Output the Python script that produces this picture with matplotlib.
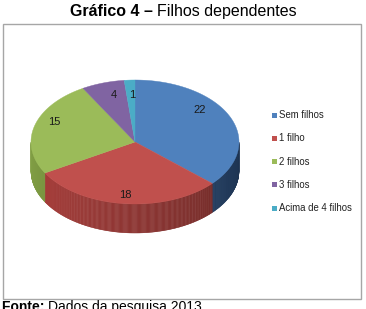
import numpy as np
import matplotlib
matplotlib.use("Agg")
import matplotlib.pyplot as plt
from matplotlib.patches import Polygon, Rectangle

plt.rcParams["font.family"] = ["Liberation Sans", "DejaVu Sans"]

categories = ["Sem filhos", "1 filho", "2 filhos", "3 filhos", "Acima de 4 filhos"]
values = [22, 18, 15, 4, 1]
top_colors = ["#4f81bd", "#c0504d", "#9bbb59", "#8064a2", "#4bacc6"]
side_colors = ["#2d4f7c", "#9a3734", "#728c3c", "#5c4878", "#32879e"]

W, H = 366, 309
fig = plt.figure(figsize=(W / 100, H / 100), dpi=100)
ax = fig.add_axes([0, 0, 1, 1])
ax.set_xlim(0, W)
ax.set_ylim(H, 0)
ax.axis("off")

# frame around the chart
ax.add_patch(Rectangle((2.5, 23.5), 358, 275, fill=False, edgecolor="#a6a6a6", lw=1.0))

# 3D pie geometry (pixel space)
cx, cy, rx, ry, depth = 135, 142, 104, 62, 29


def pt(theta_deg, dy=0.0):
    t = np.radians(theta_deg)
    return cx + rx * np.cos(t), cy - ry * np.sin(t) + dy


total = sum(values)
bounds = [90.0]
for v in values:
    bounds.append(bounds[-1] - 360.0 * v / total)

# side walls (front half, 180..360 deg), thin strips so the shading can vary
for i in range(len(values)):
    a0, a1 = bounds[i + 1] % 360, bounds[i] % 360
    if a1 <= a0:
        a1 += 360
    lo, hi = max(a0, 180), min(a1, 360)
    if hi <= lo:
        continue
    steps = np.linspace(lo, hi, int((hi - lo) * 2) + 2)
    base = np.array(matplotlib.colors.to_rgb(side_colors[i]))
    for s0, s1 in zip(steps[:-1], steps[1:]):
        f = 1.15 - 0.5 * ((0.5 * (s0 + s1) - 180) / 180)
        col = np.clip(base * f, 0, 1)
        p = [pt(s0), pt(s1), pt(s1, depth), pt(s0, depth)]
        ax.add_patch(Polygon(p, closed=True, facecolor=col, edgecolor=col, lw=0.3))

# top faces
for i in range(len(values)):
    th = np.linspace(bounds[i], bounds[i + 1], 120)
    p = [(cx, cy)] + [pt(t) for t in th]
    ax.add_patch(Polygon(p, closed=True, facecolor=top_colors[i],
                         edgecolor=top_colors[i], lw=0.3))

# value labels
label_pos = [(200, 110), (125, 195), (54, 122), (114, 95), (132, 95)]
for v, (lx, ly) in zip(values, label_pos):
    ax.text(lx, ly, str(v), ha="center", va="center", fontsize=8, color="#1a1a1a")

# legend
for i, lab in enumerate(categories):
    y = 115 + i * 23.3
    ax.add_patch(Rectangle((271.5, y - 2.5), 5, 5, facecolor=top_colors[i], edgecolor="none"))
    ax.text(279, y, lab, ha="left", va="center", fontsize=6.9, color="#222222")

# title (bold + regular parts), centred over the figure
t1 = fig.text(0, 1 - 16 / H, "Gráfico 4 – ", fontsize=11.5, fontweight="bold", va="baseline")
t2 = ax.annotate("Filhos dependentes", xy=(1, 0), xycoords=t1, fontsize=11.5,
                 va="bottom", ha="left")
fig.canvas.draw()
r = fig.canvas.get_renderer()
w = t1.get_window_extent(r).width + t2.get_window_extent(r).width
t1.set_x((W / 2 - w / 2) / W)

# source line, partly below the bottom edge as in the scan
f1 = fig.text(2 / W, 1 - 311 / H, "Fonte: ", fontsize=10, fontweight="bold", va="baseline")
ax.annotate("Dados da pesquisa 2013", xy=(1, 0), xycoords=f1, fontsize=10,
            va="bottom", ha="left")

fig.savefig("out.png", dpi=100)
